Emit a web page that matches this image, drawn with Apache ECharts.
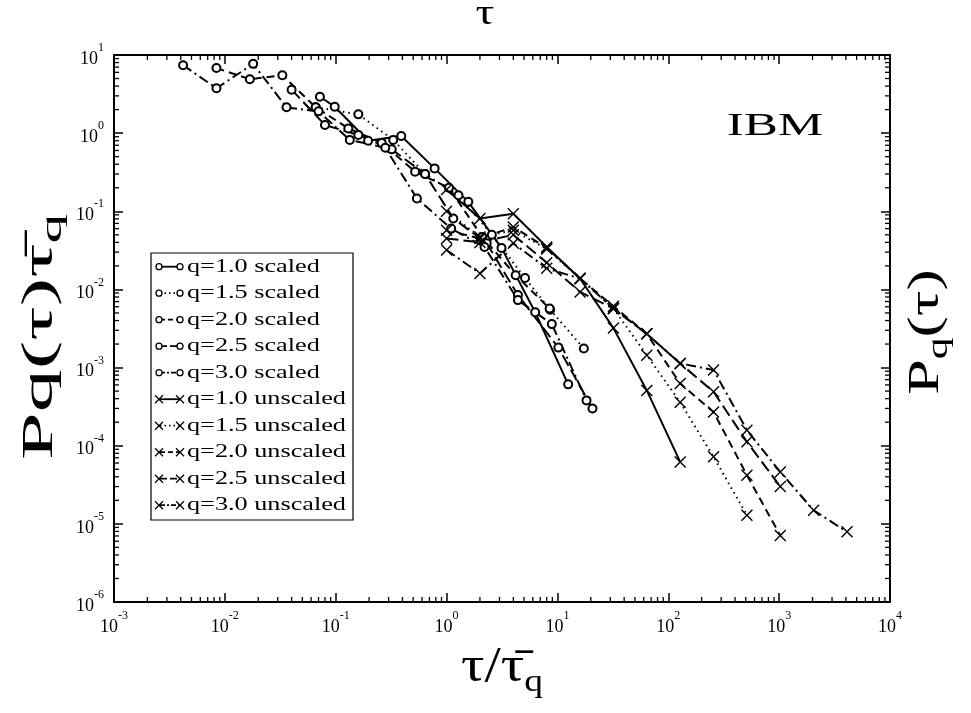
<!DOCTYPE html>
<html>
<head>
<meta charset="utf-8">
<script src="https://cdn.jsdelivr.net/npm/echarts@6/dist/echarts.min.js"></script>
<style>html,body{margin:0;padding:0;background:#fff}#c{width:971px;height:713px}</style>
</head>
<body>
<div id="c"></div>
<script>
// ---------- data ----------
const seriesNames = ['q=1.0 scaled','q=1.5 scaled','q=2.0 scaled','q=2.5 scaled','q=3.0 scaled',
  'q=1.0 unscaled','q=1.5 unscaled','q=2.0 unscaled','q=2.5 unscaled','q=3.0 unscaled'];

const s10x = [0.072,0.098,0.196,0.39,0.78,1.57,3.13,6.3,12.5];
const s10y = [2.92,2.18,0.80,0.92,0.354,0.132,0.034,0.0051,0.00061];
const s15x = [0.066,0.16,0.33,0.64,1.28,2.56,5.1,8.6,17.3];
const s15y = [2.14,1.74,0.82,0.30,0.16,0.05,0.014,0.0055,0.00175];
const s20x = [0.0084,0.0168,0.033,0.066,0.13,0.26,0.52,1.05,2.1,4.2,8.5];
const s20y = [6.8,4.9,5.5,2.14,1.15,0.75,0.32,0.2,0.047,0.0152,0.0057];
const s25x = [0.04,0.08,0.16,0.32,0.64,1.15,2.3,4.4,10.2,20.7];
const s25y = [3.6,1.27,0.95,0.62,0.3,0.081,0.039,0.0085,0.0018,0.0003];
const s30x = [0.0042,0.0084,0.018,0.036,0.07,0.134,0.28,0.54,1.1,2.2,4.4,8.9,18.3];
const s30y = [7.4,3.75,7.7,2.14,1.9,0.82,0.65,0.146,0.06,0.035,0.0073,0.0036,0.00038];

const u10x = [1,2,4,8,16,32,64,128];
const u10y = [0.19,0.081,0.093,0.035,0.0138,0.0032,0.00051,6.2e-5];
const u15x = [1,2,4,8,16,32,64,128,256,512];
const u15y = [0.1,0.047,0.057,0.033,0.0138,0.0057,0.00144,0.00036,7.2e-5,1.29e-5];
const u20x = [1,2,4,8,16,32,64,128,256,512,1024];
const u20y = [0.057,0.045,0.063,0.034,0.0138,0.0061,0.0027,0.000625,0.00027,4.2e-5,7.1e-6];
const u25x = [1,2,4,8,16,32,64,128,256,512,1024];
const u25y = [0.045,0.04,0.05,0.022,0.0093,0.0057,0.0027,0.00113,0.00049,0.000112,3.0e-5];
const u30x = [1,2,4,8,16,32,64,128,256,512,1024,2048,4096];
const u30y = [0.032,0.016,0.039,0.0186,0.0138,0.0057,0.0027,0.00113,0.00093,0.000158,4.6e-5,1.49e-5,7.9e-6];

const xMin = 1e-3, xMax = 1e4, yMin = 1e-6, yMax = 10;

// ---------- styles ----------
const FONT = 'Liberation Serif';
const dashes = ['solid',[1.5,4],[8,5],[12,5],[10,4,2,4]];
const crossPath = 'path://M0,0L10,10M0,10L10,0';
const xs = [s10x,s15x,s20x,s25x,s30x,u10x,u15x,u20x,u25x,u30x];
const ys = [s10y,s15y,s20y,s25y,s30y,u10y,u15y,u20y,u25y,u30y];

const zip = (a,b) => a.map((v,i)=>[v,b[i]]);

const series = seriesNames.map((name,i) => {
  const scaled = i < 5;
  return {
    name, type:'line', data: zip(xs[i], ys[i]),
    xAxisIndex:0, yAxisIndex:0,
    symbol: scaled ? 'emptyCircle' : crossPath,
    symbolSize: scaled ? 8 : 11,
    showAllSymbol:true,
    lineStyle:{color:'#000', width:2, type: dashes[i%5], cap:'butt'},
    itemStyle:{color:'#000', borderColor:'#000', borderWidth:1.4},
    z: 3, animation:false, silent:true
  };
});

// minor ticks (2..9 per decade) on all sides via custom series
const minorX = [], minorY = [];
for (let e = -3; e < 4; e++) for (let m = 2; m <= 9; m++) minorX.push(m*Math.pow(10,e));
for (let e = -6; e < 1; e++) for (let m = 2; m <= 9; m++) minorY.push(m*Math.pow(10,e));
const tickStyle = {stroke:'#000', lineWidth:1.3};
series.push({
  type:'custom', silent:true, animation:false, clip:false, z:5,
  data: minorX.map(v=>[v, yMin]),
  renderItem: (params, api) => {
    const v = api.value(0);
    const b = api.coord([v, yMin]), t = api.coord([v, yMax]);
    return {type:'group', children:[
      {type:'line', shape:{x1:b[0],y1:b[1],x2:b[0],y2:b[1]-5}, style:tickStyle},
      {type:'line', shape:{x1:t[0],y1:t[1],x2:t[0],y2:t[1]+5}, style:tickStyle}
    ]};
  }
});
series.push({
  type:'custom', silent:true, animation:false, clip:false, z:5,
  data: minorY.map(v=>[xMin, v]),
  renderItem: (params, api) => {
    const v = api.value(1);
    const l = api.coord([xMin, v]), r = api.coord([xMax, v]);
    return {type:'group', children:[
      {type:'line', shape:{x1:l[0],y1:l[1],x2:l[0]+5,y2:l[1]}, style:tickStyle},
      {type:'line', shape:{x1:r[0],y1:r[1],x2:r[0]-5,y2:r[1]}, style:tickStyle}
    ]};
  }
});

const expLabel = v => '{b|10}{e|' + Math.round(Math.log10(v)) + '}';
const richLab = {
  b:{fontFamily:FONT, fontSize:18, color:'#000', verticalAlign:'bottom', lineHeight:26},
  e:{fontFamily:FONT, fontSize:12, color:'#000', verticalAlign:'top', lineHeight:26}
};
const axisCommon = {
  type:'log', logBase:10,
  axisLine:{show:true, onZero:false, lineStyle:{color:'#000', width:2}},
  axisTick:{show:true, inside:true, length:9, lineStyle:{color:'#000', width:1.5}},
  splitLine:{show:false}, minorTick:{show:false}, minorSplitLine:{show:false}
};

// ---------- legend graphic ----------
const legendChildren = [];
const L = {x:151, y:253, w:202, h:267, step:26.5, y0:266.7};
legendChildren.push({type:'rect', shape:{x:L.x, y:L.y, width:L.w, height:L.h},
  style:{fill:'#fff', stroke:'#000', lineWidth:1.2}, z:10});
const legDash = [null,[1.5,3],[5,3],[7,3],[5,2,2,2]];
seriesNames.forEach((name,i) => {
  const yy = L.y0 + L.step*i;
  const scaled = i < 5;
  legendChildren.push({type:'line', shape:{x1:160, y1:yy, x2:180, y2:yy},
    style:{stroke:'#000', lineWidth:1.8, lineDash: legDash[i%5]}, z:11});
  [159,180].forEach(cx => {
    if (scaled) legendChildren.push({type:'circle', shape:{cx, cy:yy, r:3}, style:{fill:'#fff', stroke:'#000', lineWidth:1.3}, z:12});
    else legendChildren.push({type:'group', z:12, children:[
      {type:'line', shape:{x1:cx-4,y1:yy-4,x2:cx+4,y2:yy+4}, style:{stroke:'#000', lineWidth:1.3}, z:12},
      {type:'line', shape:{x1:cx-4,y1:yy+4,x2:cx+4,y2:yy-4}, style:{stroke:'#000', lineWidth:1.3}, z:12}
    ]});
  });
  legendChildren.push({type:'text', x:187, y:yy, scaleX:1.38, z:12,
    style:{text:name, font:'19px "'+FONT+'"', fill:'#000', verticalAlign:'middle', align:'left'}});
});

const option = {
  backgroundColor:'#fff',
  animation:false,
  grid:{left:114, right:81, top:55, bottom:111, containLabel:false},
  xAxis:[
    Object.assign({}, axisCommon, {min:xMin, max:xMax, position:'bottom',
      axisLabel:{formatter:expLabel, rich:richLab, margin:8}}),
    Object.assign({}, axisCommon, {min:xMin, max:xMax, position:'top', axisLabel:{show:false}})
  ],
  yAxis:[
    Object.assign({}, axisCommon, {min:yMin, max:yMax, position:'left',
      axisLabel:{formatter:expLabel, rich:richLab, margin:10}}),
    Object.assign({}, axisCommon, {min:yMin, max:yMax, position:'right', axisLabel:{show:false}})
  ],
  series,
  graphic:[
    {type:'group', children:legendChildren},
    {type:'text', x:485, y:15, scaleX:1.3, style:{text:'τ', font:'36px "'+FONT+'"', fill:'#000', align:'center', verticalAlign:'middle'}},
    {type:'text', x:775, y:127, scaleX:1.6, style:{text:'IBM', font:'32px "'+FONT+'"', fill:'#000', align:'center', verticalAlign:'middle'}},
    {type:'text', x:502, y:668, scaleX:1.17,
      style:{rich:{m:{font:'50px "'+FONT+'"', fill:'#000'}, s:{font:'32px "'+FONT+'"', fill:'#000', padding:[30,0,0,0]}},
        text:'{m|τ/τ̄}{s|q}', align:'center', verticalAlign:'middle'}},
    {type:'text', x:40, y:337, rotation:Math.PI/2, scaleX:1.95,
      style:{rich:{m:{font:'44px "'+FONT+'"', fill:'#000'}, s:{font:'30px "'+FONT+'"', fill:'#000', padding:[26,0,0,0]}},
        text:'{m|Pq(τ)τ̄}{s|q}', align:'center', verticalAlign:'middle'}},
    {type:'text', x:926, y:332, rotation:Math.PI/2, scaleX:1.45,
      style:{rich:{m:{font:'44px "'+FONT+'"', fill:'#000'}, s:{font:'30px "'+FONT+'"', fill:'#000', padding:[26,0,0,0]}},
        text:'{m|P}{s|q}{m|(τ)}', align:'center', verticalAlign:'middle'}}
  ]
};
const chart = echarts.init(document.getElementById('c'), null, {renderer:'canvas'});
chart.setOption(option);
</script>
</body>
</html>
